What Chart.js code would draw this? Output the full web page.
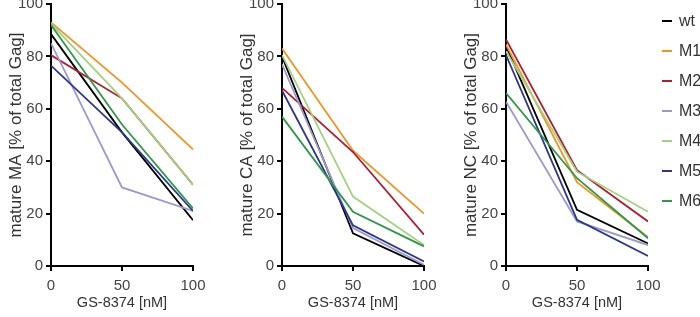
<!DOCTYPE html>
<html>
<head>
<meta charset="utf-8">
<script src="https://cdn.jsdelivr.net/npm/chart.js@4.4.0/dist/chart.umd.min.js"></script>
<style>
  body { margin: 0; background: #fff; width: 700px; height: 317px; position: relative; overflow: hidden; font-family: "Liberation Sans", Arial, sans-serif; }
  .panel { position: absolute; top: 0; width: 215px; height: 317px; }
  #legend { position: absolute; left: 662px; top: 6px; }
  .item { height: 30px; display: flex; align-items: center; font-size: 16px; color: #333; }
  .dash { width: 10px; height: 2px; margin-right: 7px; }
</style>
</head>
<body>
<div class="panel" style="left:0px"><canvas id="chartMA"></canvas></div>
<div class="panel" style="left:231px"><canvas id="chartCA"></canvas></div>
<div class="panel" style="left:455px"><canvas id="chartNC"></canvas></div>
<div id="legend"></div>
<script>
const doses = [0, 50, 100];
const seriesNames = ["wt", "M1", "M2", "M3", "M4", "M5", "M6"];
const seriesColors = ["#000000", "#f5921e", "#b01c30", "#9c99cc", "#a2d27e", "#2b3590", "#2e9a47"];

// values, per series: [0 nM, 50 nM, 100 nM]
const maturedMA = [
  [88.5, 51, 17.5],
  [93, 70, 44.5],
  [80.5, 64, 31],
  [85, 30, 21],
  [92.5, 64, 31],
  [76.5, 51, 21],
  [92, 54, 22]
];
const maturedCA = [
  [80, 12.5, 0],
  [83, 44, 20],
  [68, 43.5, 12],
  [77, 14.5, 0.5],
  [80.5, 26.5, 8],
  [67, 15.5, 1.7],
  [57, 20.7, 7.5]
];
const maturedNC = [
  [84, 21.4, 8.6],
  [84.5, 32, 11],
  [86.5, 36.6, 17],
  [62.7, 17, 8],
  [82, 36, 20.7],
  [80.5, 17.6, 3.8],
  [66, 33.5, 10.6]
];
const yTicks = [0, 20, 40, 60, 80, 100];
const xTicks = [0, 50, 100];

function makeChart(id, values, yTitle) {
  const datasets = seriesNames.map((name, i) => ({
    label: name,
    data: doses.map((d, j) => ({ x: d, y: values[i][j] })),
    borderColor: seriesColors[i],
    backgroundColor: seriesColors[i],
    borderWidth: 1.8,
    pointRadius: 0,
    tension: 0
  })).reverse();

  return new Chart(document.getElementById(id), {
    type: "line",
    data: { datasets },
    options: {
      responsive: true,
      maintainAspectRatio: false,
      animation: false,
      layout: { padding: { top: 4, right: 22, left: 0, bottom: 0 } },
      plugins: { legend: { display: false }, tooltip: { enabled: false } },
      scales: {
        x: {
          type: "linear",
          min: 0,
          max: 100,
          afterBuildTicks: (s) => { s.ticks = xTicks.map((v) => ({ value: v })); },
          afterFit: (s) => { s.height = 51; s.paddingLeft = 0; s.paddingRight = 0; },
          border: { color: "#000", width: 2 },
          grid: { drawOnChartArea: false, drawTicks: true, tickLength: 5, color: "#000", lineWidth: 2 },
          ticks: { color: "#444", font: { size: 15, family: "Liberation Sans" }, padding: 6, maxRotation: 0 },
          title: { display: true, text: "GS-8374 [nM]", color: "#333", font: { size: 14.5, family: "Liberation Sans" }, padding: { top: 4, bottom: 5 } }
        },
        y: {
          min: 0,
          max: 100,
          afterBuildTicks: (s) => { s.ticks = yTicks.map((v) => ({ value: v })); },
          afterFit: (s) => { s.width = 51; s.paddingTop = 0; s.paddingBottom = 0; },
          border: { color: "#000", width: 2 },
          grid: { drawOnChartArea: false, drawTicks: true, tickLength: 5, color: "#000", lineWidth: 2 },
          ticks: { color: "#444", font: { size: 15, family: "Liberation Sans" }, padding: 3 },
          title: { display: true, text: yTitle, color: "#333", font: { size: 17, family: "Liberation Sans" }, padding: { top: 6, bottom: 0 } }
        }
      }
    }
  });
}

makeChart("chartMA", maturedMA, "mature MA [% of total Gag]");
makeChart("chartCA", maturedCA, "mature CA [% of total Gag]");
makeChart("chartNC", maturedNC, "mature NC [% of total Gag]");

const legend = document.getElementById("legend");
seriesNames.forEach((name, i) => {
  const row = document.createElement("div");
  row.className = "item";
  row.innerHTML = '<span class="dash" style="background:' + seriesColors[i] + '"></span>' + name;
  legend.appendChild(row);
});
</script>
</body>
</html>
